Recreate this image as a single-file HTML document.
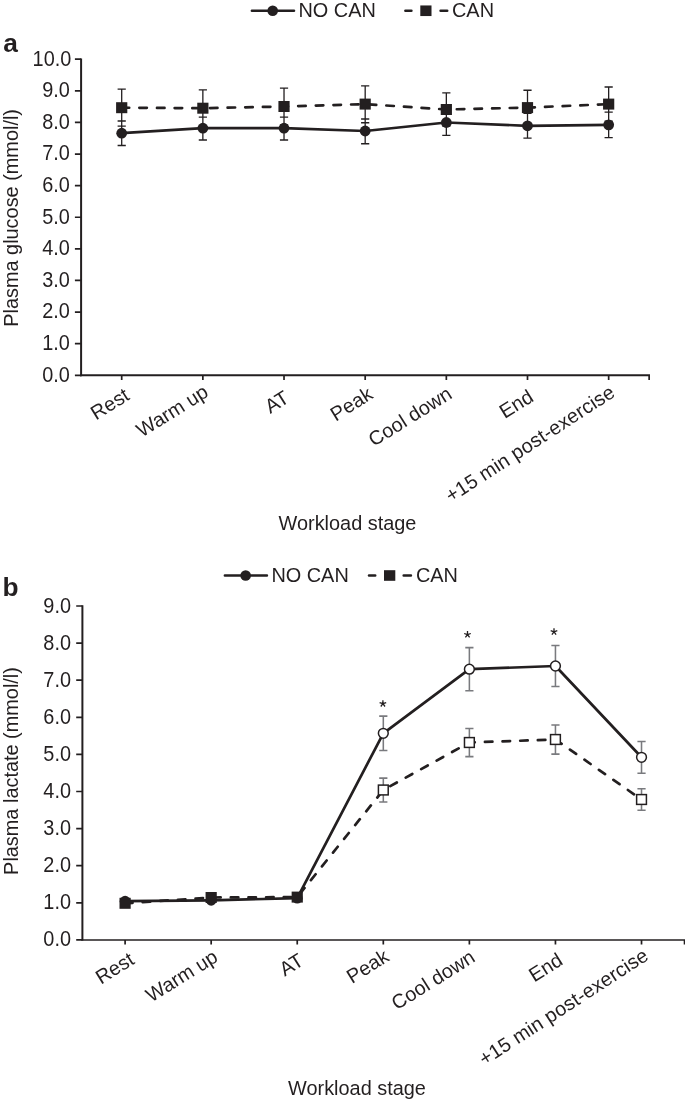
<!DOCTYPE html>
<html><head><meta charset="utf-8"><title>Figure</title>
<style>
html,body{margin:0;padding:0;background:#fff;}
svg{display:block;will-change:transform;font-family:"Liberation Sans",sans-serif;fill:#231f20;}
</style></head><body>
<svg width="685" height="1099" viewBox="0 0 685 1099">
<rect width="685" height="1099" fill="#fff"/>
<g stroke="#231f20" fill="none">
<path d="M81.1 58.40V376.25" stroke-width="2"/><path d="M80.1 375.3H650.0" stroke-width="1.9"/>
<path d="M74.90 375.30H81.1M74.90 343.69H81.1M74.90 312.08H81.1M74.90 280.47H81.1M74.90 248.86H81.1M74.90 217.25H81.1M74.90 185.64H81.1M74.90 154.03H81.1M74.90 122.42H81.1M74.90 90.81H81.1M74.90 59.20H81.1M121.70 375.3v4.6M202.86 375.3v4.6M284.02 375.3v4.6M365.18 375.3v4.6M446.34 375.3v4.6M527.50 375.3v4.6M608.66 375.3v4.6M649.15 375.3v4.6" stroke-width="1.7"/>
</g>
<g font-size="19.9">
<text transform="translate(69.9 381.70) scale(1 1.07)" text-anchor="end">0.0</text>
<text transform="translate(69.9 350.09) scale(1 1.07)" text-anchor="end">1.0</text>
<text transform="translate(69.9 318.48) scale(1 1.07)" text-anchor="end">2.0</text>
<text transform="translate(69.9 286.87) scale(1 1.07)" text-anchor="end">3.0</text>
<text transform="translate(69.9 255.26) scale(1 1.07)" text-anchor="end">4.0</text>
<text transform="translate(69.9 223.65) scale(1 1.07)" text-anchor="end">5.0</text>
<text transform="translate(69.9 192.04) scale(1 1.07)" text-anchor="end">6.0</text>
<text transform="translate(69.9 160.43) scale(1 1.07)" text-anchor="end">7.0</text>
<text transform="translate(69.9 128.82) scale(1 1.07)" text-anchor="end">8.0</text>
<text transform="translate(69.9 97.21) scale(1 1.07)" text-anchor="end">9.0</text>
<text transform="translate(71.30000000000001 65.60) scale(1 1.07)" text-anchor="end">10.0</text>
<text transform="translate(130.80 398.80) rotate(-32)" text-anchor="end">Rest</text>
<text transform="translate(209.66 395.50) rotate(-32)" text-anchor="end">Warm up</text>
<text transform="translate(290.62 401.30) rotate(-32)" text-anchor="end">AT</text>
<text transform="translate(374.28 397.60) rotate(-32)" text-anchor="end">Peak</text>
<text transform="translate(453.44 397.30) rotate(-32)" text-anchor="end">Cool down</text>
<text transform="translate(534.80 400.30) rotate(-32)" text-anchor="end">End</text>
<text transform="translate(616.36 395.60) rotate(-33)" text-anchor="end" letter-spacing="0.1">+15 min post-exercise</text>
<text transform="translate(17.7 217.9) rotate(-90)" text-anchor="middle">Plasma glucose (mmol/l)</text>
<text x="347.5" y="529.8" text-anchor="middle">Workload stage</text>
</g>
<path d="M121.70 121.00V145.50M117.60 121.00h8.2M117.60 145.50h8.2M202.86 117.05V140.00M198.76 117.05h8.2M198.76 140.00h8.2M284.02 117.05V140.00M279.92 117.05h8.2M279.92 140.00h8.2M365.18 119.00V143.75M361.08 119.00h8.2M361.08 143.75h8.2M446.34 109.55V135.45M442.24 109.55h8.2M442.24 135.45h8.2M527.50 113.30V138.10M523.40 113.30h8.2M523.40 138.10h8.2M608.66 112.20V137.60M604.56 112.20h8.2M604.56 137.60h8.2M121.70 89.20V126.20M117.60 89.20h8.2M117.60 126.20h8.2M202.86 89.80V126.60M198.76 89.80h8.2M198.76 126.60h8.2M284.02 88.15V124.85M279.92 88.15h8.2M279.92 124.85h8.2M365.18 85.95V122.75M361.08 85.95h8.2M361.08 122.75h8.2M446.34 92.95V126.05M442.24 92.95h8.2M442.24 126.05h8.2M527.50 90.25V124.95M523.40 90.25h8.2M523.40 124.95h8.2M608.66 87.00V121.20M604.56 87.00h8.2M604.56 121.20h8.2" stroke="#231f20" stroke-width="1.3" fill="none"/>
<polyline points="121.70,133.20 202.86,128.20 284.02,128.20 365.18,131.00 446.34,122.50 527.50,125.80 608.66,124.85" fill="none" stroke="#231f20" stroke-width="2.7" stroke-linejoin="round"/>
<polyline points="121.70,107.70 202.86,108.20 284.02,106.50 365.18,104.10 446.34,109.50 527.50,107.60 608.66,104.10" fill="none" stroke="#231f20" stroke-width="2.7" stroke-dasharray="7.5 10.15" stroke-linecap="round" stroke-linejoin="round"/>
<circle cx="121.70" cy="133.20" r="5.4" fill="#231f20"/>
<circle cx="202.86" cy="128.20" r="5.4" fill="#231f20"/>
<circle cx="284.02" cy="128.20" r="5.4" fill="#231f20"/>
<circle cx="365.18" cy="131.00" r="5.4" fill="#231f20"/>
<circle cx="446.34" cy="122.50" r="5.4" fill="#231f20"/>
<circle cx="527.50" cy="125.80" r="5.4" fill="#231f20"/>
<circle cx="608.66" cy="124.85" r="5.4" fill="#231f20"/>
<rect x="116.10" y="102.20" width="11.2" height="11" fill="#231f20"/>
<rect x="197.26" y="102.70" width="11.2" height="11" fill="#231f20"/>
<rect x="278.42" y="101.00" width="11.2" height="11" fill="#231f20"/>
<rect x="359.58" y="98.60" width="11.2" height="11" fill="#231f20"/>
<rect x="440.74" y="104.00" width="11.2" height="11" fill="#231f20"/>
<rect x="521.90" y="102.10" width="11.2" height="11" fill="#231f20"/>
<rect x="603.06" y="98.60" width="11.2" height="11" fill="#231f20"/>
<path d="M251.95 10.75H293.95M405.45 10.75H411.35M440.65 10.75H447.15" stroke="#231f20" stroke-width="2.7" stroke-linecap="round"/>
<circle cx="272.7" cy="10.75" r="5.3" fill="#231f20"/>
<rect x="420.3" y="5.45" width="11.20" height="10.6" fill="#231f20"/>
<text x="298.5" y="17.25" font-size="19.9">NO CAN</text>
<text x="452" y="17.25" font-size="19.9">CAN</text>
<text x="3.2" y="52.2" font-size="26.3" font-weight="bold">a</text>
<g stroke="#231f20" fill="none">
<path d="M82.4 605.20V940.62" stroke-width="2"/><path d="M81.4 939.9H685.4" stroke-width="1.45"/>
<path d="M76.20 939.90H82.4M76.20 902.80H82.4M76.20 865.70H82.4M76.20 828.60H82.4M76.20 791.50H82.4M76.20 754.40H82.4M76.20 717.30H82.4M76.20 680.20H82.4M76.20 643.10H82.4M76.20 606.00H82.4M125.10 939.9v4.6M211.17 939.9v4.6M297.24 939.9v4.6M383.31 939.9v4.6M469.38 939.9v4.6M555.45 939.9v4.6M641.52 939.9v4.6M684.55 939.9v4.6" stroke-width="1.7"/>
</g>
<g font-size="19.9">
<text transform="translate(71.0 946.40) scale(1 1.07)" text-anchor="end">0.0</text>
<text transform="translate(71.0 909.30) scale(1 1.07)" text-anchor="end">1.0</text>
<text transform="translate(71.0 872.20) scale(1 1.07)" text-anchor="end">2.0</text>
<text transform="translate(71.0 835.10) scale(1 1.07)" text-anchor="end">3.0</text>
<text transform="translate(71.0 798.00) scale(1 1.07)" text-anchor="end">4.0</text>
<text transform="translate(71.0 760.90) scale(1 1.07)" text-anchor="end">5.0</text>
<text transform="translate(71.0 723.80) scale(1 1.07)" text-anchor="end">6.0</text>
<text transform="translate(71.0 686.70) scale(1 1.07)" text-anchor="end">7.0</text>
<text transform="translate(71.0 649.60) scale(1 1.07)" text-anchor="end">8.0</text>
<text transform="translate(71.0 612.50) scale(1 1.07)" text-anchor="end">9.0</text>
<text transform="translate(135.60 963.00) rotate(-32)" text-anchor="end">Rest</text>
<text transform="translate(219.17 960.40) rotate(-32)" text-anchor="end">Warm up</text>
<text transform="translate(305.14 964.00) rotate(-32)" text-anchor="end">AT</text>
<text transform="translate(390.41 959.90) rotate(-32)" text-anchor="end">Peak</text>
<text transform="translate(476.48 960.70) rotate(-32)" text-anchor="end">Cool down</text>
<text transform="translate(564.25 963.70) rotate(-32)" text-anchor="end">End</text>
<text transform="translate(649.82 958.80) rotate(-33)" text-anchor="end" letter-spacing="0.1">+15 min post-exercise</text>
<text transform="translate(17.7 771) rotate(-90)" text-anchor="middle">Plasma lactate (mmol/l)</text>
<text x="357.0" y="1094.9" text-anchor="middle">Workload stage</text>
</g>
<path d="M125.10 899.20V903.20M121.00 899.20h8.2M121.00 903.20h8.2M211.17 898.30V902.30M207.07 898.30h8.2M207.07 902.30h8.2M297.24 896.20V900.20M293.14 896.20h8.2M293.14 900.20h8.2M383.31 716.10V750.50M379.21 716.10h8.2M379.21 750.50h8.2M469.38 647.60V690.70M465.28 647.60h8.2M465.28 690.70h8.2M555.45 645.50V686.50M551.35 645.50h8.2M551.35 686.50h8.2M641.52 741.40V773.20M637.42 741.40h8.2M637.42 773.20h8.2M125.10 901.30V905.30M121.00 901.30h8.2M121.00 905.30h8.2M211.17 895.50V899.50M207.07 895.50h8.2M207.07 899.50h8.2M297.24 895.10V899.10M293.14 895.10h8.2M293.14 899.10h8.2M383.31 778.10V801.90M379.21 778.10h8.2M379.21 801.90h8.2M469.38 728.40V756.60M465.28 728.40h8.2M465.28 756.60h8.2M555.45 724.90V754.10M551.35 724.90h8.2M551.35 754.10h8.2M641.52 788.80V810.20M637.42 788.80h8.2M637.42 810.20h8.2" stroke="#797a7e" stroke-width="1.55" fill="none"/>
<polyline points="125.10,901.20 211.17,900.30 297.24,898.20 383.31,733.30 469.38,669.15 555.45,666.00 641.52,757.30" fill="none" stroke="#231f20" stroke-width="2.7" stroke-linejoin="round"/>
<polyline points="125.10,903.30 211.17,897.50 297.24,897.10 383.31,790.00 469.38,742.50 555.45,739.50 641.52,799.50" fill="none" stroke="#231f20" stroke-width="2.7" stroke-dasharray="7.5 10.15" stroke-linecap="round" stroke-linejoin="round"/>
<circle cx="125.10" cy="901.20" r="5.4" fill="#231f20"/>
<circle cx="211.17" cy="900.30" r="5.4" fill="#231f20"/>
<circle cx="297.24" cy="898.20" r="5.4" fill="#231f20"/>
<circle cx="383.31" cy="733.30" r="4.9" fill="#fff" stroke="#231f20" stroke-width="1.5"/>
<circle cx="469.38" cy="669.15" r="4.9" fill="#fff" stroke="#231f20" stroke-width="1.5"/>
<circle cx="555.45" cy="666.00" r="4.9" fill="#fff" stroke="#231f20" stroke-width="1.5"/>
<circle cx="641.52" cy="757.30" r="4.9" fill="#fff" stroke="#231f20" stroke-width="1.5"/>
<rect x="119.50" y="897.80" width="11.2" height="11" fill="#231f20"/>
<rect x="205.57" y="892.00" width="11.2" height="11" fill="#231f20"/>
<rect x="291.64" y="891.60" width="11.2" height="11" fill="#231f20"/>
<rect x="378.41" y="785.10" width="9.8" height="9.8" fill="#fff" stroke="#231f20" stroke-width="1.5"/>
<rect x="464.48" y="737.60" width="9.8" height="9.8" fill="#fff" stroke="#231f20" stroke-width="1.5"/>
<rect x="550.55" y="734.60" width="9.8" height="9.8" fill="#fff" stroke="#231f20" stroke-width="1.5"/>
<rect x="636.62" y="794.60" width="9.8" height="9.8" fill="#fff" stroke="#231f20" stroke-width="1.5"/>
<path d="M382.9 703.7v-3.5M382.9 703.7l-3.3 -1.1M382.9 703.7l3.3 -1.1M382.9 703.7l-2.1 2.8M382.9 703.7l2.1 2.8" stroke="#231f20" stroke-width="1.3" fill="none"/>
<path d="M467.5 634.6v-3.5M467.5 634.6l-3.3 -1.1M467.5 634.6l3.3 -1.1M467.5 634.6l-2.1 2.8M467.5 634.6l2.1 2.8" stroke="#231f20" stroke-width="1.3" fill="none"/>
<path d="M554.0 631.8v-3.5M554.0 631.8l-3.3 -1.1M554.0 631.8l3.3 -1.1M554.0 631.8l-2.1 2.8M554.0 631.8l2.1 2.8" stroke="#231f20" stroke-width="1.3" fill="none"/>
<path d="M224.95 575.5H266.85M369.05 575.5H375.15M403.75 575.5H410.85" stroke="#231f20" stroke-width="2.7" stroke-linecap="round"/>
<circle cx="245.65" cy="575.5" r="5.3" fill="#231f20"/>
<rect x="384.0" y="570.2" width="11.30" height="10.6" fill="#231f20"/>
<text x="271.4" y="582.00" font-size="19.9">NO CAN</text>
<text x="415.9" y="582.00" font-size="19.9">CAN</text>
<text x="2.4" y="595.6" font-size="26.3" font-weight="bold">b</text>
</svg>
</body></html>
